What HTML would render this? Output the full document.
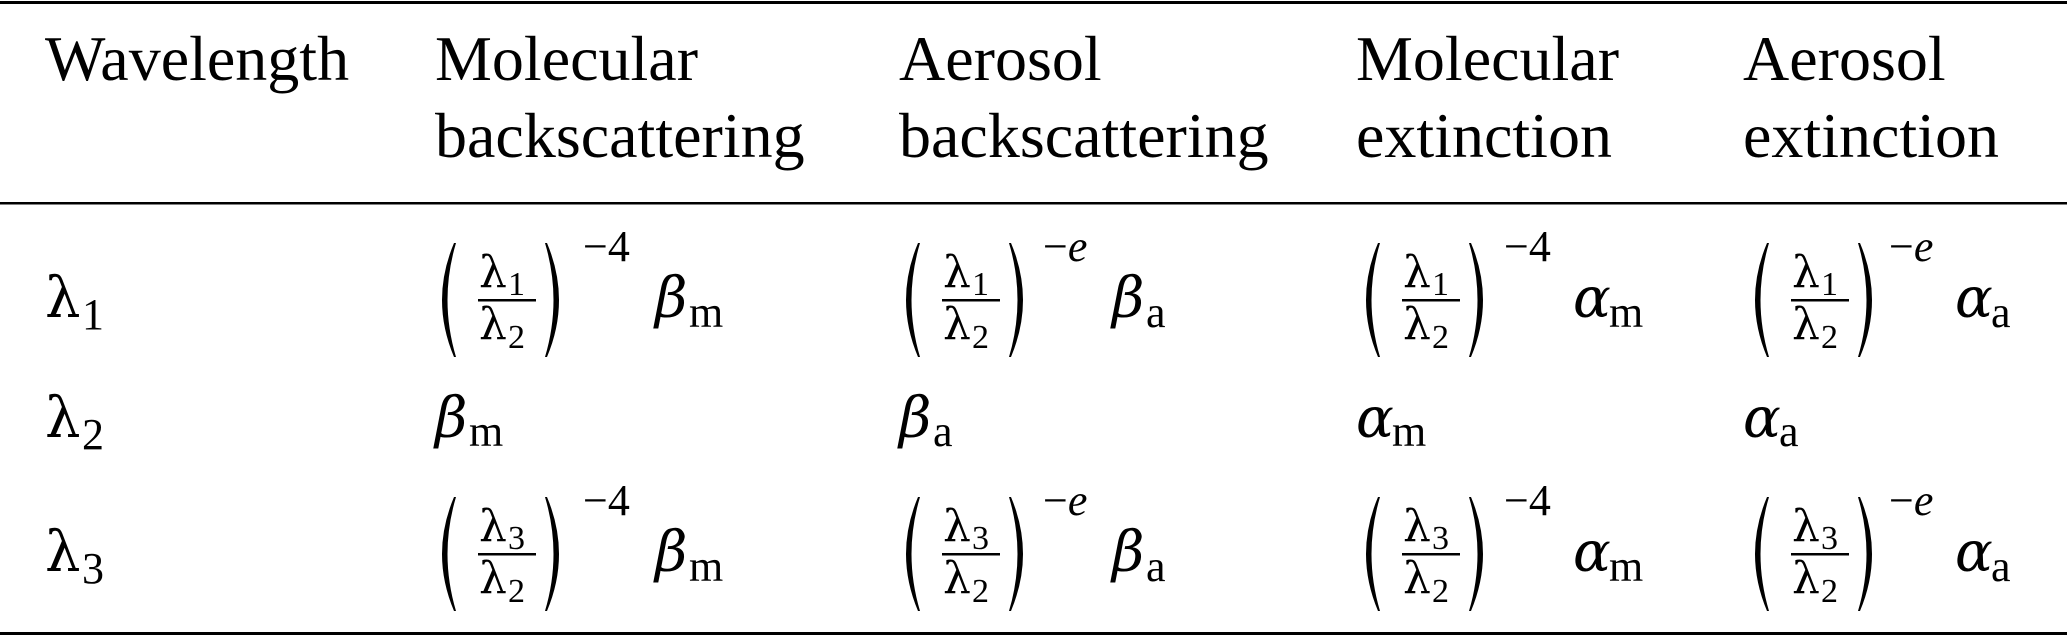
<!DOCTYPE html>
<html><head><meta charset="utf-8"><style>
html,body{margin:0;padding:0;background:#fff;}
svg{display:block;}
text{font-family:"Liberation Serif",serif;fill:#000;}
.g{font-family:"DejaVu Serif",serif;}
.m{font-size:64px;}
.gm{font-size:56px;}
.s{font-size:44px;}
.gs{font-size:44px;}
.ss{font-size:34px;}
.i{font-style:italic;}
</style></head><body>
<svg width="2067" height="638" viewBox="0 0 2067 638" xmlns="http://www.w3.org/2000/svg">
<defs>
<g id="fr">
  <path d="M16,-74 Q-8,-17 16,40 L18,40 Q1,-17 18,-74 Z"/>
  <path d="M109,-74 Q133,-17 109,40 L107,40 Q124,-17 107,-74 Z"/>
  <rect x="40" y="-18" width="58" height="2.5"/>
</g>
</defs>
<rect x="0" y="1" width="2067" height="3"/>
<rect x="0" y="202" width="2067" height="2.5"/>
<rect x="0" y="632" width="2067" height="3"/>

<g class="m">
<text x="45" y="80">Wavelength</text>
<text x="435" y="80">Molecular</text>
<text x="435" y="157">backscattering</text>
<text x="899" y="80">Aerosol</text>
<text x="899" y="157">backscattering</text>
<text x="1356" y="80">Molecular</text>
<text x="1356" y="157">extinction</text>
<text x="1743" y="80">Aerosol</text>
<text x="1743" y="157">extinction</text>
</g>

<text class="g gm" x="45" y="317">λ</text><text class="s" x="82" y="329">1</text>
<text class="g gm" x="45" y="437">λ</text><text class="s" x="82" y="449">2</text>
<text class="g gm" x="45" y="571">λ</text><text class="s" x="82" y="583">3</text>

<text class="g gm i" x="435" y="437">β</text><text class="s" x="469" y="446">m</text>
<text class="g gm i" x="899" y="437">β</text><text class="s" x="933" y="446">a</text>
<text class="g gm i" x="1356" y="437">α</text><text class="s" x="1392" y="446">m</text>
<text class="g gm i" x="1743" y="437">α</text><text class="s" x="1779" y="446">a</text>

<use href="#fr" transform="translate(438,317)"/>
<g transform="translate(438,317)">
 <text class="g gs" x="41" y="-30">λ</text><text class="ss" x="70" y="-22">1</text>
 <text class="g gs" x="41" y="22">λ</text><text class="ss" x="70" y="31">2</text>
 <text class="s" x="145" y="-56">−4</text>
 <text class="g gm i" x="217" y="0">β</text><text class="s" x="251" y="10">m</text>
</g>
<use href="#fr" transform="translate(902,317)"/>
<g transform="translate(902,317)">
 <text class="g gs" x="41" y="-30">λ</text><text class="ss" x="70" y="-22">1</text>
 <text class="g gs" x="41" y="22">λ</text><text class="ss" x="70" y="31">2</text>
 <text class="s" x="141" y="-56">−<tspan class="i">e</tspan></text>
 <text class="g gm i" x="210" y="0">β</text><text class="s" x="244" y="10">a</text>
</g>
<use href="#fr" transform="translate(1362,317)"/>
<g transform="translate(1362,317)">
 <text class="g gs" x="41" y="-30">λ</text><text class="ss" x="70" y="-22">1</text>
 <text class="g gs" x="41" y="22">λ</text><text class="ss" x="70" y="31">2</text>
 <text class="s" x="142" y="-56">−4</text>
 <text class="g gm i" x="211" y="0">α</text><text class="s" x="247" y="10">m</text>
</g>
<use href="#fr" transform="translate(1751,317)"/>
<g transform="translate(1751,317)">
 <text class="g gs" x="41" y="-30">λ</text><text class="ss" x="70" y="-22">1</text>
 <text class="g gs" x="41" y="22">λ</text><text class="ss" x="70" y="31">2</text>
 <text class="s" x="138" y="-56">−<tspan class="i">e</tspan></text>
 <text class="g gm i" x="204" y="0">α</text><text class="s" x="240" y="10">a</text>
</g>

<use href="#fr" transform="translate(438,571)"/>
<g transform="translate(438,571)">
 <text class="g gs" x="41" y="-30">λ</text><text class="ss" x="70" y="-22">3</text>
 <text class="g gs" x="41" y="22">λ</text><text class="ss" x="70" y="31">2</text>
 <text class="s" x="145" y="-56">−4</text>
 <text class="g gm i" x="217" y="0">β</text><text class="s" x="251" y="10">m</text>
</g>
<use href="#fr" transform="translate(902,571)"/>
<g transform="translate(902,571)">
 <text class="g gs" x="41" y="-30">λ</text><text class="ss" x="70" y="-22">3</text>
 <text class="g gs" x="41" y="22">λ</text><text class="ss" x="70" y="31">2</text>
 <text class="s" x="141" y="-56">−<tspan class="i">e</tspan></text>
 <text class="g gm i" x="210" y="0">β</text><text class="s" x="244" y="10">a</text>
</g>
<use href="#fr" transform="translate(1362,571)"/>
<g transform="translate(1362,571)">
 <text class="g gs" x="41" y="-30">λ</text><text class="ss" x="70" y="-22">3</text>
 <text class="g gs" x="41" y="22">λ</text><text class="ss" x="70" y="31">2</text>
 <text class="s" x="142" y="-56">−4</text>
 <text class="g gm i" x="211" y="0">α</text><text class="s" x="247" y="10">m</text>
</g>
<use href="#fr" transform="translate(1751,571)"/>
<g transform="translate(1751,571)">
 <text class="g gs" x="41" y="-30">λ</text><text class="ss" x="70" y="-22">3</text>
 <text class="g gs" x="41" y="22">λ</text><text class="ss" x="70" y="31">2</text>
 <text class="s" x="138" y="-56">−<tspan class="i">e</tspan></text>
 <text class="g gm i" x="204" y="0">α</text><text class="s" x="240" y="10">a</text>
</g>
</svg>
</body></html>
